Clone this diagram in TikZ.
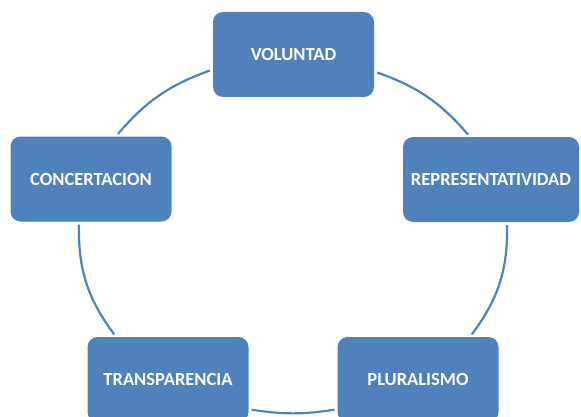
\documentclass[tikz,border=0pt]{standalone}
\usepackage{fontspec}
\setmainfont{Carlito}
\definecolor{cycleblue}{HTML}{4F81BD}
\begin{document}
\begin{tikzpicture}[x=1pt,y=1pt,
  box/.style={fill=cycleblue, rounded corners=10pt, minimum width=161pt, minimum height=85pt,
    text=white, font=\fontsize{18.5}{20}\selectfont\bfseries, inner sep=0pt},
  ring/.style={draw=cycleblue, line width=2.2pt, shorten <=3pt, shorten >=3pt}]
\useasboundingbox (0,0) rectangle (581,416);
\node[box] (voluntad) at (293.5,361.5) {VOLUNTAD};
\node[box, minimum width=176pt] (representatividad) at (491,236.5) {REPRESENTATIVIDAD};
\node[box] (pluralismo) at (418,36.5) {PLURALISMO};
\node[box] (transparencia) at (168,36.5) {TRANSPARENCIA};
\node[box] (concertacion) at (91,237) {CONCERTACION};

\path[ring] ([yshift=-17pt]voluntad.east) to[bend left=15] ([xshift=-21pt]representatividad.north);
\path[ring] ([xshift=16pt]representatividad.south) to[bend left=19] ([xshift=52pt]pluralismo.north);
\path[ring] ([yshift=13pt]pluralismo.south west) to[bend left=9] ([yshift=13pt]transparencia.south east);
\path[ring] ([xshift=-52pt]transparencia.north) to[bend left=19] ([xshift=-12pt]concertacion.south);
\path[ring] ([xshift=25pt]concertacion.north) to[bend left=15] ([yshift=-15pt]voluntad.west);
\end{tikzpicture}
\end{document}
